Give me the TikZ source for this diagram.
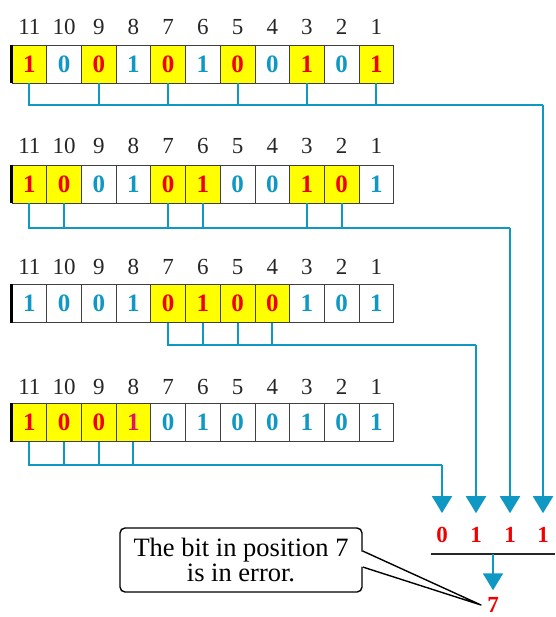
\documentclass[tikz,border=0pt]{standalone}
\usepackage{fontspec}
\setmainfont{Liberation Serif}
\usetikzlibrary{arrows.meta}
\definecolor{hbblue}{RGB}{16,152,196}
\definecolor{hbred}{RGB}{240,0,0}
\definecolor{hbyel}{RGB}{255,255,0}
\definecolor{hbpink}{RGB}{228,20,100}
\tikzset{
 cell/.style={draw=black!75, line width=0.8pt, minimum width=34.7pt, minimum height=38pt, inner sep=0pt, anchor=center, font=\fontsize{25}{25}\selectfont\bfseries},
 plain/.style={cell, fill=white, text=hbblue},
 hot/.style={cell, fill=hbyel, text=hbred},
 hotpink/.style={cell, fill=hbyel, text=hbpink},
 poslabel/.style={font=\fontsize{23}{23}\selectfont, text=black!85, inner sep=0pt},
 wire/.style={draw=hbblue, line width=2pt},
 arr/.style={wire, -{Triangle[width=20pt,length=17pt]}},
 res/.style={font=\fontsize{23}{23}\selectfont\bfseries, text=hbred, inner sep=0pt},
 edge/.style={line width=2.6pt, black},
 callout/.style={draw=black, line width=1.4pt, rounded corners=5pt, fill=white, minimum width=242pt, minimum height=64pt, align=center, font=\fontsize{26.5}{23}\selectfont, inner sep=2pt},
}
\begin{document}
\begin{tikzpicture}[x=1pt,y=-1pt]
\useasboundingbox (0,0) rectangle (555,617);
% row 1
\foreach \p/\b/\s in {11/1/hot,10/0/plain,9/0/hot,8/1/plain,7/0/hot,6/1/plain,5/0/hot,4/0/plain,3/1/hot,2/0/plain,1/1/hot}{
  \node[poslabel] (ra\p) at ({12+34.7*(11.5-\p)},27) {\p};
  \node[\s] (a\p) at ({12+34.7*(11.5-\p)},64) {\b};
}
% row 2
\foreach \p/\b/\s in {11/1/hot,10/0/hot,9/0/plain,8/1/plain,7/0/hot,6/1/hot,5/0/plain,4/0/plain,3/1/hot,2/0/hot,1/1/plain}{
  \node[poslabel] (rb\p) at ({12+34.7*(11.5-\p)},146) {\p};
  \node[\s] (b\p) at ({12+34.7*(11.5-\p)},184) {\b};
}
% row 3
\foreach \p/\b/\s in {11/1/plain,10/0/plain,9/0/plain,8/1/plain,7/0/hot,6/1/hot,5/0/hot,4/0/hot,3/1/plain,2/0/plain,1/1/plain}{
  \node[poslabel] (rc\p) at ({12+34.7*(11.5-\p)},267) {\p};
  \node[\s] (c\p) at ({12+34.7*(11.5-\p)},303.5) {\b};
}
% row 4
\foreach \p/\b/\s in {11/1/hot,10/0/hot,9/0/hot,8/1/hotpink,7/0/plain,6/1/plain,5/0/plain,4/0/plain,3/1/plain,2/0/plain,1/1/plain}{
  \node[poslabel] (rd\p) at ({12+34.7*(11.5-\p)},387) {\p};
  \node[\s] (d\p) at ({12+34.7*(11.5-\p)},422.5) {\b};
}
% thick left edges
\foreach \r in {a,b,c,d}{
  \draw[edge] (\r11.north west) -- (\r11.south west);
}
% result digits
\node[res] (s4) at (442,535) {0};
\node[res] (s3) at (476,535) {1};
\node[res] (s2) at (510,535) {1};
\node[res] (s1) at (543,535) {1};
% brackets
\coordinate (ka) at (543,105);
\coordinate (kb) at (510,228);
\coordinate (kc) at (476,345);
\coordinate (kd) at (442,465);
\draw[wire] (a11.south) |- (ka);
\foreach \p in {9,7,5,3,1}{\draw[wire] (a\p.south) -- (a\p.south |- ka);}
\draw[arr, shorten >=14pt] (ka) -- (s1.north);
\draw[wire] (b11.south) |- (kb);
\foreach \p in {10,7,6,3,2}{\draw[wire] (b\p.south) -- (b\p.south |- kb);}
\draw[arr, shorten >=14pt] (kb) -- (s2.north);
\draw[wire] (c7.south) |- (kc);
\foreach \p in {6,5,4}{\draw[wire] (c\p.south) -- (c\p.south |- kc);}
\draw[arr, shorten >=14pt] (kc) -- (s3.north);
\draw[wire] (d11.south) |- (kd);
\foreach \p in {10,9,8}{\draw[wire] (d\p.south) -- (d\p.south |- kd);}
\draw[arr, shorten >=14pt] (kd) -- (s4.north);
% sum line
\coordinate (sl) at (431,554);
\coordinate (sr) at (555,554);
\coordinate (sm) at (493,554);
\draw[black!85, line width=1.3pt] (sl) -- (sr);
\node[res] (err) at (493,605) {7};
\draw[arr, shorten >=7pt] (sm) -- (err.north);
% callout
\node[callout] (note) at (241,560) {The bit in position 7\\is in error.};
\coordinate (tip) at (481,605);
\fill[white] ([xshift=-1.5pt,yshift=-6.5pt]note.east) -- (tip) -- ([xshift=-1.5pt,yshift=8.5pt]note.east) -- cycle;
\draw[line width=1.4pt, line join=round] ([yshift=-7pt]note.east) -- (tip) -- ([yshift=9pt]note.east);
\end{tikzpicture}
\end{document}
